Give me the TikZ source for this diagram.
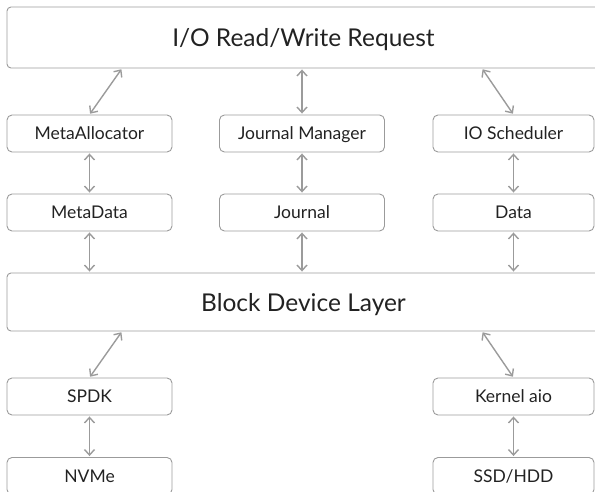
\documentclass[tikz,border=0pt]{standalone}
\usepackage{fontspec}
\setmainfont{Lato}
\usepackage{tikz}
\usetikzlibrary{arrows.meta}
\usepackage{xcolor}
\definecolor{edgegray}{HTML}{9B9B9B}
\definecolor{textgray}{HTML}{222222}
\tikzset{>={Straight Barb[length=5.5pt,width=10pt]}}

\begin{document}
\begin{tikzpicture}[x=1pt,y=-1pt]
                \tikzstyle{layer}=[draw=edgegray, line width=0.9pt, rounded corners=4pt,
                        text=textgray, font=\fontsize{24.5}{28}\selectfont,
                        text height=18pt, text depth=0pt,
                        minimum width=593pt, inner sep=0pt]
                \tikzstyle{unit}=[draw=edgegray, line width=0.9pt, rounded corners=5pt,
                        text=textgray, font=\fontsize{17.5}{20}\selectfont,
                        text height=12.8pt, text depth=0pt,
                        minimum width=165pt, minimum height=37pt, inner sep=0pt]
                \tikzstyle{link}=[<->, draw=edgegray, line width=1.4pt,
                        shorten <=1pt, shorten >=1pt]
                \useasboundingbox (0,0) rectangle (595,492);

                % request layer
                \node[layer, minimum height=61pt] (req) at (303.5, 37.5) {I/O Read/Write Request};

                \node[unit] (alloc) at (89.5, 133.5) {MetaAllocator};
                \node[unit] (jmgr) at (302, 133.5) {Journal Manager};
                \node[unit, minimum width=161pt] (sched) at (513.5, 133.5) {IO Scheduler};

                \node[unit] (meta) at (89.5, 212.5) {MetaData};
                \node[unit] (journal) at (302, 212.5) {Journal};
                \node[unit, minimum width=161pt] (data) at (513.5, 212.5) {Data};

                % block layer
                \node[layer, minimum height=58pt] (block) at (303.5, 302) {Block Device Layer};

                \node[unit] (spdk) at (89.5, 396.5) {SPDK};
                \node[unit, minimum width=161pt] (kaio) at (513.5, 396.5) {Kernel aio};
                \node[unit] (nvme) at (89.5, 476) {NVMe};
                \node[unit, minimum width=161pt] (disk) at (513.5, 476) {SSD/HDD};

                \coordinate (lslant) at (122, 0);
                \coordinate (rslant) at (482, 0);

                \draw[link] (req.south -| lslant) -- (alloc.north);
                \draw[link] (req.south -| jmgr) -- (jmgr.north);
                \draw[link] (req.south -| rslant) -- (sched.north);

                \draw[link] (alloc) -- (meta);
                \draw[link] (jmgr) -- (journal);
                \draw[link] (sched) -- (data);

                \draw[link] (meta.south) -- (block.north -| meta);
                \draw[link] (journal.south) -- (block.north -| journal);
                \draw[link] (data.south) -- (block.north -| data);

                \draw[link] (block.south -| lslant) -- (spdk.north);
                \draw[link] (block.south -| rslant) -- (kaio.north);

                \draw[link] (spdk) -- (nvme);
                \draw[link] (kaio) -- (disk);
\end{tikzpicture}
\end{document}
